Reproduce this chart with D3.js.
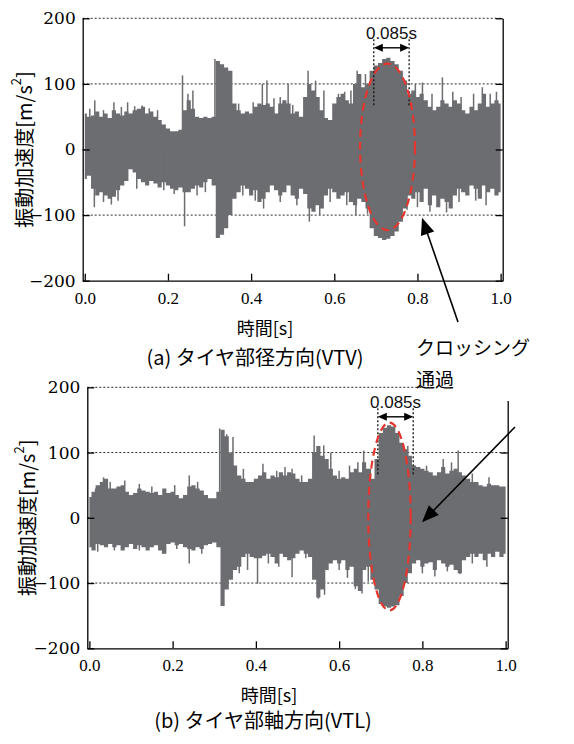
<!DOCTYPE html>
<html>
<head>
<meta charset="utf-8">
<script src="https://cdn.jsdelivr.net/npm/d3@7"></script>
<style>
  body { margin: 0; background: #fff; }
  svg { display: block; }
</style>
</head>
<body>
<svg id="chart" width="574" height="744"></svg>
<script>
// Tick values shared by both panels
const yTicks = [200, 100, 0, -100, -200];
const gridValues = [200, 100, 0, -100];
const xTicks = [0, 0.2, 0.4, 0.6, 0.8, 1.0];

// Envelope of the acceleration signal, one value every 10 ms from 0.00 s to 1.00 s
const sampleStep = 0.01;

// (a) radial direction (VTV)
const upperA = [
  55, 50, 52, 58, 50, 55, 48, 60, 55, 52,
  58, 55, 60, 62, 65, 55, 58, 50, 45, 38,
  32, 28, 28, 30, 60, 75, 62, 50, 48, 50,
  48, 50, 135, 130, 125, 120, 70, 60, 55, 58,
  55, 65, 70, 68, 70, 65, 55, 70, 75, 70,
  55, 58, 50, 80, 100, 90, 80, 60, 48, 45,
  70, 80, 85, 75, 70, 100, 115, 95, 100, 120,
  128, 132, 138, 140, 135, 130, 120, 105, 85, 90,
  80, 85, 75, 65, 60, 65, 75, 70, 65, 75,
  70, 60, 55, 65, 60, 70, 85, 65, 70, 75,
  70
];
const lowerA = [
  -45, -40, -60, -70, -65, -70, -75, -72, -62, -55,
  -48, -30, -35, -45, -50, -55, -48, -52, -58, -50,
  -55, -60, -62, -58, -65, -65, -60, -55, -58, -50,
  -45, -55, -135, -130, -120, -100, -75, -65, -55, -60,
  -70, -62, -80, -75, -65, -55, -62, -70, -65, -55,
  -70, -75, -60, -68, -90, -95, -85, -90, -70, -60,
  -65, -75, -70, -65, -80, -85, -75, -80, -90, -120,
  -132, -135, -138, -136, -132, -125, -110, -90, -70, -75,
  -65, -80, -60, -85, -70, -88, -75, -80, -90, -70,
  -60, -65, -70, -55, -60, -75, -55, -65, -60, -70,
  -65
];
// isolated peaks [time s, value m/s²]
const peaksA = [
  [0.012, 62], [0.024, 75], [0.045, 60], [0.07, 72], [0.088, 65], [0.103, 72],
  [0.12, 66], [0.138, 67], [0.155, 63], [0.175, 60], [0.235, 113], [0.248, 85],
  [0.26, 90], [0.313, 138], [0.37, 70], [0.405, 72], [0.427, 100], [0.438, 105],
  [0.455, 78], [0.47, 80], [0.489, 100], [0.5, 68], [0.537, 120], [0.555, 105],
  [0.575, 90], [0.61, 85], [0.625, 88], [0.64, 90], [0.655, 120], [0.675, 115],
  [0.69, 118], [0.795, 100], [0.812, 102], [0.835, 85], [0.86, 110], [0.885, 88],
  [0.905, 80], [0.935, 85], [0.956, 95], [0.975, 85], [0.99, 88],
  [0.023, -88], [0.045, -80], [0.064, -84], [0.08, -78], [0.125, -60], [0.19, -62],
  [0.215, -68], [0.24, -117], [0.27, -70], [0.29, -65], [0.38, -70], [0.41, -78],
  [0.43, -90], [0.47, -80], [0.51, -85], [0.54, -110], [0.565, -100], [0.59, -80],
  [0.63, -85], [0.652, -101], [0.68, -98], [0.775, -92], [0.8, -88], [0.83, -95],
  [0.87, -96], [0.9, -80], [0.94, -78], [0.965, -85]
];

// (b) axial direction (VTL)
const upperB = [
  32, 40, 50, 55, 60, 45, 45, 48, 50, 40,
  35, 38, 45, 42, 40, 38, 40, 35, 45, 38,
  40, 35, 30, 35, 48, 50, 45, 42, 35, 30,
  30, 40, 135, 125, 100, 80, 65, 60, 55, 55,
  60, 65, 70, 60, 65, 62, 70, 65, 70, 68,
  60, 55, 55, 60, 100, 110, 95, 90, 75, 65,
  60, 62, 60, 70, 75, 70, 85, 75, 60, 90,
  130, 138, 142, 140, 130, 115, 105, 95, 80, 78,
  75, 72, 70, 65, 70, 78, 68, 72, 75, 70,
  65, 60, 55, 55, 50, 48, 52, 50, 50, 48,
  48
];
const lowerB = [
  -45, -50, -40, -42, -45, -40, -45, -42, -50, -45,
  -40, -48, -42, -45, -50, -45, -42, -50, -55, -40,
  -38, -42, -40, -45, -48, -50, -45, -48, -42, -40,
  -38, -45, -135, -110, -95, -80, -75, -60, -55, -60,
  -62, -62, -58, -55, -60, -70, -55, -60, -65, -62,
  -55, -50, -55, -60, -95, -122, -110, -80, -70, -65,
  -70, -65, -80, -75, -105, -112, -80, -75, -95, -110,
  -132, -136, -138, -136, -134, -120, -100, -85, -70, -65,
  -75, -70, -68, -80, -65, -70, -75, -72, -80, -85,
  -65, -60, -55, -60, -55, -65, -55, -60, -52, -60,
  -55
];
const peaksB = [
  [0.015, 45], [0.034, 62], [0.05, 55], [0.085, 57], [0.12, 52], [0.15, 48],
  [0.205, 50], [0.24, 65], [0.26, 55], [0.313, 137], [0.33, 128], [0.345, 124],
  [0.37, 75], [0.417, 83], [0.45, 72], [0.47, 78], [0.487, 75], [0.51, 65],
  [0.54, 126], [0.563, 111], [0.58, 100], [0.6, 72], [0.625, 80], [0.645, 85],
  [0.659, 103], [0.675, 75], [0.765, 110], [0.81, 80], [0.85, 90], [0.87, 85],
  [0.886, 103], [0.92, 68], [0.96, 62],
  [0.02, -52], [0.06, -50], [0.12, -50], [0.176, -55], [0.21, -48], [0.24, -70],
  [0.27, -55], [0.36, -85], [0.38, -80], [0.404, -101], [0.43, -70], [0.455, -75],
  [0.487, -91], [0.52, -62], [0.55, -124], [0.565, -118], [0.6, -80], [0.62, -92],
  [0.639, -109], [0.655, -116], [0.67, -98], [0.8, -85], [0.83, -90], [0.86, -82],
  [0.89, -86], [0.92, -70], [0.955, -75]
];

// Crossing passage annotation: window start, duration, ellipse and arrow tip
const crossingLabel = "0.085s";
const crossingWindow = 0.085;
const crossingA = { start: 0.695, cx: 0.728, cy: 4, rx: 0.066, ry: 127, tipT: 0.811, tipV: -104 };
const crossingB = { start: 0.693, cx: 0.721, cy: 2, rx: 0.051, ry: 144, tipT: 0.799, tipV: -7 };

const yTitle = "振動加速度[m/s";
const xTitle = "時間[s]";
const captionA = "(a) タイヤ部径方向(VTV)";
const captionB = "(b) タイヤ部軸方向(VTL)";
const noteLines = ["クロッシング", "通過"];

const signalColor = "#6c6d71";
const ellipseColor = "#e5352f";
const jpFont = "'Noto Sans CJK JP', sans-serif";
const serifFont = "'DejaVu Serif', 'Liberation Serif', serif";
const serifFontX = "'Liberation Serif', 'DejaVu Serif', serif";

const svg = d3.select("#chart");

function arrowHead(g, x1, y1, x2, y2, len, half) {
  const a = Math.atan2(y2 - y1, x2 - x1);
  const bx = x2 - len * Math.cos(a), by = y2 - len * Math.sin(a);
  const px = -Math.sin(a) * half, py = Math.cos(a) * half;
  g.append("path")
    .attr("d", `M${x2},${y2}L${bx + px},${by + py}L${bx - px},${by - py}Z`)
    .attr("fill", "#000");
}

function drawPanel(frame, upper, lower, peaks, crossing, labels) {
  const x = d3.scaleLinear().domain([-0.005, 1.005]).range([frame.left, frame.right]);
  const y = d3.scaleLinear().domain([-200, 200]).range([frame.bottom, frame.top]);
  const g = svg.append("g");

  // dotted reference lines
  g.selectAll("line.grid").data(gridValues).join("line")
    .attr("class", "grid")
    .attr("x1", frame.left).attr("x2", frame.right)
    .attr("y1", d => y(d)).attr("y2", d => y(d))
    .attr("stroke", "#111").attr("stroke-width", 0.9)
    .attr("stroke-dasharray", "2,2");

  // signal envelope
  const pts = upper.map((u, i) => ({ t: i * sampleStep, u: u, l: lower[i] }));
  const area = d3.area().curve(d3.curveStep)
    .x(d => x(d.t)).y0(d => y(d.l)).y1(d => y(d.u));
  g.append("path").datum(pts).attr("d", area).attr("fill", signalColor);

  g.selectAll("line.peak").data(peaks).join("line")
    .attr("class", "peak")
    .attr("x1", d => x(d[0])).attr("x2", d => x(d[0]))
    .attr("y1", y(0)).attr("y2", d => y(d[1]))
    .attr("stroke", signalColor).attr("stroke-width", 1.5);

  // axes
  const styleAxis = sel => {
    sel.selectAll("path.domain").attr("stroke", "#000").attr("stroke-width", 1.3);
    sel.selectAll(".tick line").attr("stroke", "#000").attr("stroke-width", 1.3);
  };
  const left = g.append("g").attr("transform", `translate(${frame.left},0)`)
    .call(d3.axisLeft(y).tickValues(yTicks).tickSize(-7).tickSizeOuter(0).tickPadding(7));
  styleAxis(left);
  left.attr("font-family", null).attr("font-size", null);
  left.selectAll("text").style("font-family", serifFont).style("font-size", "17px").attr("fill", "#000");

  const right = g.append("g").attr("transform", `translate(${frame.right},0)`)
    .call(d3.axisRight(y).tickValues(yTicks).tickSize(-7).tickSizeOuter(0).tickFormat(""));
  styleAxis(right);

  const bottom = g.append("g").attr("transform", `translate(0,${frame.bottom})`)
    .call(d3.axisBottom(x).tickValues(xTicks).tickSize(-7).tickSizeOuter(0).tickPadding(11)
      .tickFormat(d3.format(".1f")));
  styleAxis(bottom);
  bottom.attr("font-family", null).attr("font-size", null);
  bottom.selectAll("text").style("font-family", serifFontX).style("font-size", "17px").attr("fill", "#000");

  // axis titles
  const yt = g.append("text")
    .attr("transform", `translate(${labels.yTitleX},${y(0)}) rotate(-90)`)
    .attr("text-anchor", "middle").attr("dominant-baseline", "central")
    .style("font-family", jpFont).style("font-size", "20px").attr("fill", "#000");
  yt.append("tspan").text(yTitle);
  yt.append("tspan").attr("dy", -8).style("font-size", "13px").text("2");
  yt.append("tspan").attr("dy", 8).text("]");

  g.append("text").attr("x", labels.xTitleX).attr("y", labels.xTitleY)
    .attr("text-anchor", "middle").attr("dominant-baseline", "central")
    .style("font-family", jpFont).style("font-size", "18px").attr("fill", "#000")
    .text(xTitle);

  g.append("text").attr("x", labels.captionX).attr("y", labels.captionY)
    .attr("text-anchor", "middle").attr("dominant-baseline", "central")
    .style("font-family", jpFont).style("font-size", "20px").attr("fill", "#000")
    .text(labels.caption);

  // crossing window markers
  const xs = x(crossing.start), xe = x(crossing.start + crossingWindow);
  const ann = g.append("g");
  [xs, xe].forEach(xx => {
    ann.append("line").attr("x1", xx).attr("x2", xx)
      .attr("y1", frame.top + 21).attr("y2", y(65))
      .attr("stroke", "#111").attr("stroke-width", 1.3).attr("stroke-dasharray", "2,2");
  });
  const ay = frame.top + 29.5;
  ann.append("line").attr("x1", xs + 6).attr("x2", xe - 6).attr("y1", ay).attr("y2", ay)
    .attr("stroke", "#000").attr("stroke-width", 1.4);
  arrowHead(ann, xe, ay, xs, ay, 9, 4);
  arrowHead(ann, xs, ay, xe, ay, 9, 4);
  ann.append("text").attr("x", (xs + xe) / 2).attr("y", frame.top + 15)
    .attr("text-anchor", "middle").attr("dominant-baseline", "central")
    .style("font-family", "'Liberation Sans', Arial, sans-serif").style("font-size", "17px")
    .attr("fill", "#111").text(crossingLabel);

  ann.append("ellipse")
    .attr("cx", x(crossing.cx)).attr("cy", y(crossing.cy))
    .attr("rx", x(crossing.cx + crossing.rx) - x(crossing.cx))
    .attr("ry", y(0) - y(crossing.ry))
    .attr("fill", "none").attr("stroke", ellipseColor)
    .attr("stroke-width", 2.2).attr("stroke-dasharray", "8,5");

  return { x, y };
}

const scaleA = drawPanel(
  { left: 82.7, right: 502.7, top: 18.3, bottom: 280.7 },
  upperA, lowerA, peaksA, crossingA,
  { yTitleX: 22.7, xTitleX: 265, xTitleY: 327, captionX: 255, captionY: 356, caption: captionA }
);
const scaleB = drawPanel(
  { left: 87.3, right: 507.7, top: 387.3, bottom: 648.3 },
  upperB, lowerB, peaksB, crossingB,
  { yTitleX: 26, xTitleX: 269, xTitleY: 694, captionX: 263, captionY: 719, caption: captionB }
);

// note box sits over the upper right corner of panel (b)
svg.append("rect").attr("x", 432).attr("y", 330).attr("width", 142).attr("height", 71)
  .attr("fill", "#fff");
svg.selectAll("text.note").data(noteLines).join("text")
  .attr("class", "note")
  .attr("x", 416).attr("y", (d, i) => 346 + i * 32)
  .attr("dominant-baseline", "central")
  .style("font-family", jpFont).style("font-size", "19px").attr("fill", "#000")
  .text(d => d);

// arrows pointing at the passage in each panel
const arrows = svg.append("g");
[
  { from: [458, 322], tip: [scaleA.x(crossingA.tipT), scaleA.y(crossingA.tipV)] },
  { from: [515, 427], tip: [scaleB.x(crossingB.tipT), scaleB.y(crossingB.tipV)] }
].forEach(a => {
  const [x1, y1] = a.from, [x2, y2] = a.tip;
  const ang = Math.atan2(y2 - y1, x2 - x1);
  arrows.append("line").attr("x1", x1).attr("y1", y1)
    .attr("x2", x2 - 10 * Math.cos(ang)).attr("y2", y2 - 10 * Math.sin(ang))
    .attr("stroke", "#000").attr("stroke-width", 1.6);
  arrowHead(arrows, x1, y1, x2, y2, 17, 7);
});
</script>
</body>
</html>
